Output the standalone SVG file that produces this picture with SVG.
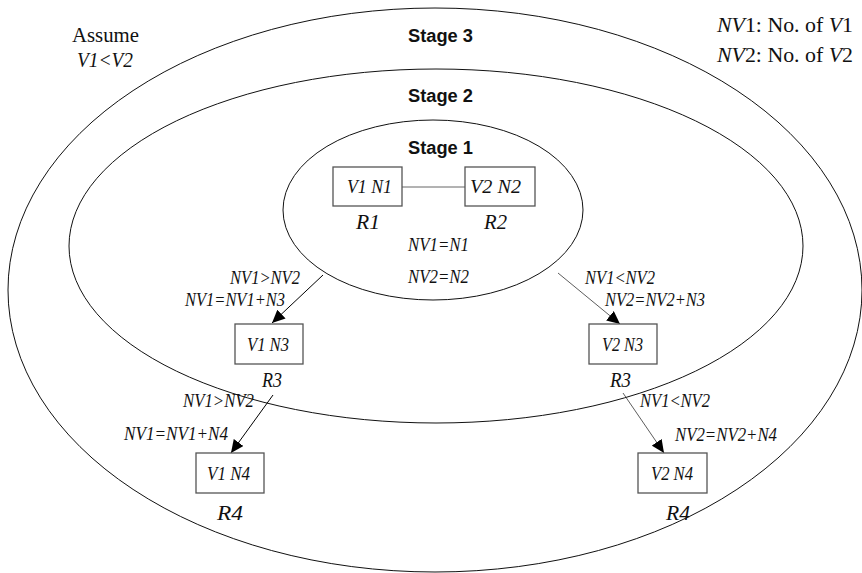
<svg xmlns="http://www.w3.org/2000/svg" width="862" height="573" viewBox="0 0 862 573">
  <defs>
    <marker id="arrow" markerUnits="userSpaceOnUse" markerWidth="14" markerHeight="12" refX="13" refY="6" orient="auto">
      <path d="M0,0 L13,6 L0,12 Z" fill="#000"/>
    </marker>
    <style>
      .stage { fill: none; stroke: #111; stroke-width: 1; }
      .box { fill: #fff; stroke: #555; stroke-width: 1.3; }
      .t { font-family: "Liberation Serif", "Times New Roman", serif; fill: #111; }
      .it { font-style: italic; }
      .lbl { font-size: 19px; }
      .big { font-size: 21px; }
      .head { font-family: "Liberation Sans Narrow", "Liberation Sans", Arial, sans-serif; font-weight: bold; font-size: 18px; fill: #111; }
      .link { stroke: #000; stroke-width: 1; fill: none; }
      .link.light { stroke: #333; stroke-width: 0.8; }
    </style>
  </defs>

  <rect width="862" height="573" fill="#fff"/>

  <!-- nested stage regions -->
  <g id="stages">
    <ellipse class="stage" cx="435" cy="290" rx="427" ry="282"/>
    <ellipse class="stage" cx="436" cy="246" rx="367" ry="177"/>
    <ellipse class="stage" cx="433" cy="210" rx="150" ry="90"/>
    <text class="head" x="408" y="42" textLength="65" lengthAdjust="spacingAndGlyphs">Stage 3</text>
    <text class="head" x="408" y="102" textLength="65" lengthAdjust="spacingAndGlyphs">Stage 2</text>
    <text class="head" x="408" y="154" textLength="65" lengthAdjust="spacingAndGlyphs">Stage 1</text>
  </g>

  <!-- side notes -->
  <g id="notes">
    <text class="t big" x="72" y="42" textLength="67" lengthAdjust="spacingAndGlyphs">Assume</text>
    <text class="t big it" x="77" y="67" textLength="56" lengthAdjust="spacingAndGlyphs">V1&lt;V2</text>
    <text class="t" font-size="20" x="717" y="32" textLength="136" lengthAdjust="spacingAndGlyphs"><tspan class="it">NV</tspan>1: No. of  <tspan class="it">V</tspan>1</text>
    <text class="t" font-size="20" x="717" y="62" textLength="136" lengthAdjust="spacingAndGlyphs"><tspan class="it">NV</tspan>2: No. of  <tspan class="it">V</tspan>2</text>
  </g>

  <!-- connectors -->
  <g id="connectors">
    <line x1="402" y1="187" x2="465" y2="187" stroke="#666" stroke-width="1"/>
    <line class="link" x1="323" y1="275" x2="272" y2="323" marker-end="url(#arrow)"/>
    <line class="link light" x1="558" y1="273" x2="620" y2="324" marker-end="url(#arrow)"/>
    <line class="link" x1="273" y1="395" x2="231" y2="453" marker-end="url(#arrow)"/>
    <line class="link light" x1="623" y1="393" x2="664" y2="453" marker-end="url(#arrow)"/>
  </g>

  <!-- connector conditions -->
  <g id="conditions" class="t it lbl">
    <text x="408" y="251" textLength="61" lengthAdjust="spacingAndGlyphs">NV1=N1</text>
    <text x="408" y="283" textLength="61" lengthAdjust="spacingAndGlyphs">NV2=N2</text>
    <text x="230" y="284" textLength="70" lengthAdjust="spacingAndGlyphs">NV1&gt;NV2</text>
    <text x="185" y="306" textLength="100" lengthAdjust="spacingAndGlyphs">NV1=NV1+N3</text>
    <text x="585" y="284" textLength="70" lengthAdjust="spacingAndGlyphs">NV1&lt;NV2</text>
    <text x="605" y="306" textLength="100" lengthAdjust="spacingAndGlyphs">NV2=NV2+N3</text>
    <text x="183" y="407" textLength="71" lengthAdjust="spacingAndGlyphs">NV1&gt;NV2</text>
    <text x="124" y="440" textLength="104" lengthAdjust="spacingAndGlyphs">NV1=NV1+N4</text>
    <text x="640" y="407" textLength="70" lengthAdjust="spacingAndGlyphs">NV1&lt;NV2</text>
    <text x="675" y="441" textLength="102" lengthAdjust="spacingAndGlyphs">NV2=NV2+N4</text>
  </g>

  <!-- nodes -->
  <g id="node-v1n1">
    <rect class="box" x="333" y="167" width="69" height="39"/>
    <text class="t it" font-size="18" x="347" y="193" textLength="45" lengthAdjust="spacingAndGlyphs">V1 N1</text>
    <text class="t it" font-size="21" x="356" y="229" textLength="24" lengthAdjust="spacingAndGlyphs">R1</text>
  </g>
  <g id="node-v2n2">
    <rect class="box" x="465" y="167" width="70" height="39"/>
    <text class="t it" font-size="18" x="470" y="193" textLength="51" lengthAdjust="spacingAndGlyphs">V2 N2</text>
    <text class="t it" font-size="21" x="484" y="229" textLength="23" lengthAdjust="spacingAndGlyphs">R2</text>
  </g>
  <g id="node-v1n3">
    <rect class="box" x="235" y="324" width="68" height="40"/>
    <text class="t it" font-size="18" x="247" y="351" textLength="42" lengthAdjust="spacingAndGlyphs">V1 N3</text>
    <text class="t it" font-size="21" x="262" y="387" textLength="20" lengthAdjust="spacingAndGlyphs">R3</text>
  </g>
  <g id="node-v2n3">
    <rect class="box" x="589" y="324" width="68" height="40"/>
    <text class="t it" font-size="18" x="602" y="351" textLength="41" lengthAdjust="spacingAndGlyphs">V2 N3</text>
    <text class="t it" font-size="21" x="610" y="387" textLength="21" lengthAdjust="spacingAndGlyphs">R3</text>
  </g>
  <g id="node-v1n4">
    <rect class="box" x="196" y="453" width="68" height="40"/>
    <text class="t it" font-size="18" x="207" y="480" textLength="43" lengthAdjust="spacingAndGlyphs">V1 N4</text>
    <text class="t it" font-size="21" x="217" y="520" textLength="26" lengthAdjust="spacingAndGlyphs">R4</text>
  </g>
  <g id="node-v2n4">
    <rect class="box" x="638" y="453" width="69" height="40"/>
    <text class="t it" font-size="18" x="651" y="480" textLength="42" lengthAdjust="spacingAndGlyphs">V2 N4</text>
    <text class="t it" font-size="21" x="666" y="520" textLength="24" lengthAdjust="spacingAndGlyphs">R4</text>
  </g>
</svg>
